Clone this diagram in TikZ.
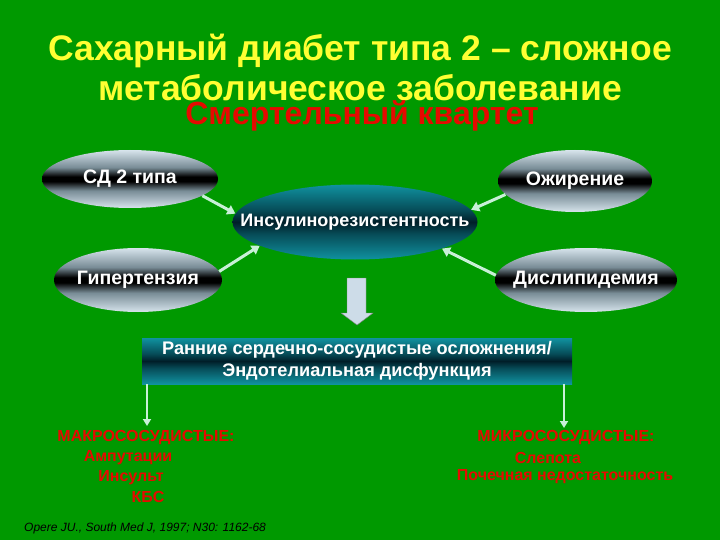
\documentclass[tikz,border=0pt]{standalone}
\usepackage{fontspec}
\setmainfont{Liberation Sans}
\usepackage{tikz}
\usetikzlibrary{arrows.meta}
\usetikzlibrary{shapes}

\definecolor{slidegreen}{RGB}{0,153,0}
\definecolor{titleyellow}{RGB}{255,255,51}
\definecolor{quartetred}{RGB}{230,10,0}
\definecolor{silverlite}{RGB}{215,228,236}
\definecolor{silvermid}{RGB}{120,140,150}
\definecolor{tealite}{RGB}{16,146,160}
\definecolor{tealdark}{RGB}{0,30,40}
\definecolor{palegreen}{RGB}{200,240,215}
\definecolor{blockfill}{RGB}{205,220,232}

\pgfdeclareverticalshading{silverband}{100bp}{color(0bp)=(silverlite); color(25bp)=(silverlite); color(40bp)=(silvermid); color(48bp)=(black); color(52bp)=(black); color(60bp)=(silvermid); color(75bp)=(silverlite); color(100bp)=(silverlite)}
\pgfdeclareverticalshading{tealband}{100bp}{color(0bp)=(tealite); color(25bp)=(tealite); color(42bp)=(tealdark!60!tealite); color(50bp)=(tealdark); color(58bp)=(tealdark!60!tealite); color(75bp)=(tealite); color(100bp)=(tealite)}

\tikzset{
  risk/.style={ellipse, shading=silverband, inner ysep=0pt, inner xsep=-25pt, text=white,
    font=\fontsize{19.5}{22}\selectfont\bfseries},
  core/.style={ellipse, shading=tealband, inner ysep=0pt, inner xsep=-40pt, text=white,
    font=\fontsize{18}{20}\selectfont\bfseries},
  link/.style={draw=palegreen, line width=3pt, -{Triangle[length=8pt,width=10pt]}},
  droplink/.style={draw=palegreen, line width=2pt, -{Triangle[length=7pt,width=8pt]}},
  redtxt/.style={text=quartetred, font=\fontsize{16}{18}\selectfont\bfseries, inner sep=0pt}
}

\begin{document}
\begin{tikzpicture}[x=1pt,y=-1pt]
          \fill[slidegreen] (0,0) rectangle (720,540);
          % title
          \node[text=titleyellow, align=center, font=\fontsize{35.5}{40}\selectfont\bfseries] (title) at (360,67)
            {Сахарный диабет типа 2 – сложное\\метаболическое заболевание};
          \node[text=quartetred, font=\fontsize{32}{34}\selectfont\bfseries] (quartet) at (362,116) {Смертельный квартет};
          % quartet around the core
          \node[risk, minimum width=176pt, minimum height=58pt] (sd) at (130,179) {\raisebox{-2pt}{СД 2 типа}};
          \node[risk, minimum width=154pt, minimum height=62pt] (obesity) at (575,181) {\raisebox{-2pt}{Ожирение}};
          \node[risk, minimum width=168pt, minimum height=64pt] (hyper) at (138,280) {Гипертензия};
          \node[risk, minimum width=182pt, minimum height=64pt] (dyslip) at (586,280) {Дислипидемия};
          \node[core, minimum width=245pt, minimum height=75pt] (insulin) at (355,222) {Инсулинорезистентность};
          \draw[link] (sd.-13) -- (insulin.176);
          \draw[link] (hyper.6) -- (insulin.-166);
          \draw[link] (obesity.-169) -- (insulin.6);
          \draw[link] (dyslip.177) -- (insulin.-17);
          % block arrow
          \draw[draw=gray, fill=blockfill] (347,278) -- (366,278) -- (366,313) -- (373,313)
            -- (357,325) -- (341,313) -- (347,313) -- cycle;
          % complications
          \node[rectangle, shading=tealband, minimum width=430pt, minimum height=46pt, inner sep=0pt,
            text=white, align=center, font=\fontsize{18.2}{22}\selectfont\bfseries] (early) at (357,361)
            {Ранние сердечно-сосудистые осложнения/\\Эндотелиальная дисфункция};
          \coordinate (macrotip) at (147,426);
          \coordinate (microtip) at (564,428);
          \draw[droplink] (early.south -| macrotip) -- (macrotip);
          \draw[droplink] (early.south -| microtip) -- (microtip);
          \node[redtxt] (macro1) at (146,438) {МАКРОСОСУДИСТЫЕ:};
          \node[redtxt] (macro2) at (128,458) {Ампутации};
          \node[redtxt] (macro3) at (131,478) {Инсульт};
          \node[redtxt] (macro4) at (148,497) {КБС};
          \node[redtxt] (micro1) at (566,438) {МИКРОСОСУДИСТЫЕ:};
          \node[redtxt] (micro2) at (548,458) {Слепота};
          \node[redtxt] (micro3) at (565,477) {Почечная недостаточность};
          \node[anchor=west, inner sep=0pt, font=\fontsize{12}{13}\selectfont\itshape] (cite) at (24,528)
            {Opere JU., South Med J, 1997; N30: 1162-68};
        \end{tikzpicture}
\end{document}
